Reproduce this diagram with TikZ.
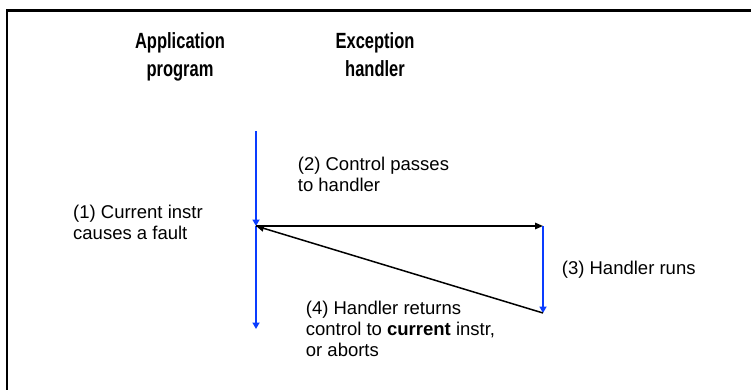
\documentclass[tikz,border=0pt]{standalone}
\usepackage{fontspec}
\setmainfont{Liberation Sans}
\newfontfamily\titlefont[FakeStretch=0.75]{Liberation Sans}
\usetikzlibrary{arrows.meta}
\definecolor{flowblue}{RGB}{10,60,255}
\begin{document}
\begin{tikzpicture}[x=1pt,y=-1pt,
  title/.style={font=\titlefont\bfseries\fontsize{22}{28.3}\selectfont, align=center, inner sep=0, anchor=base},
  lbl/.style={font=\fontsize{18.5}{20.8}\selectfont, align=left, inner sep=0, anchor=base west},
  flow/.style={draw=flowblue, line width=2.6pt, -{Triangle[length=6.5pt,width=7pt]}},
  ctl/.style={draw=black, line width=1.5pt, -{Triangle[length=8pt,width=6.5pt]}}]
\useasboundingbox (0,0) rectangle (751,390);
\clip (0,0) rectangle (751,390);
\draw[line width=2.4pt] (7,400) -- (7,10.5) -- (760,10.5);
% titles (anchor = baseline of last line)
\node[title] (app) at (180,76.7) {Application\\program};
\node[title] (exc) at (375,76.7) {Exception\\handler};
% points
\coordinate (top) at (256,131);
\coordinate (fault) at (256,226);
\coordinate (bot) at (256,329);
\coordinate (hstart) at (543,226);
\coordinate (hend) at (543,313);
% arrows
\draw[flow] (top) -- (fault);
\draw[flow] (fault) -- (bot);
\draw[ctl] (fault) -- (hstart);
\draw[flow] (hstart) -- (hend);
\draw[ctl] (hend) -- (fault);
% labels (anchor = baseline of last line)
\node[lbl] (l1) at (73,239) {(1) Current instr\\causes a fault};
\node[lbl] (l2) at (297.7,191) {(2) Control passes\\to handler};
\node[lbl] (l3) at (561.7,274) {(3) Handler runs};
\node[lbl] (l4) at (305.7,356.5) {(4) Handler returns\\control to \textbf{current} instr,\\or aborts};
\end{tikzpicture}
\end{document}
